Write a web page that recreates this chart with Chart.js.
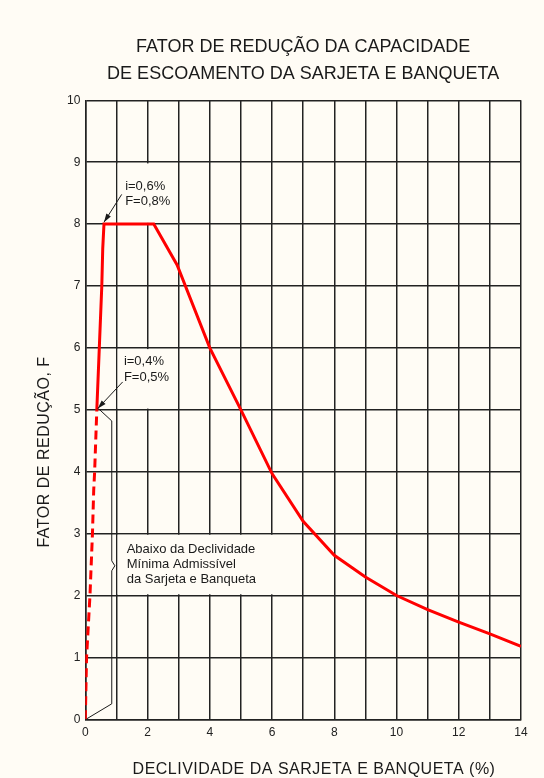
<!DOCTYPE html>
<html>
<head>
<meta charset="utf-8">
<script src="https://cdn.jsdelivr.net/npm/chart.js@4.4.1/dist/chart.umd.min.js"></script>
<style>
  html, body { margin: 0; padding: 0; background: #fffcf5; }
  #wrap { width: 544px; height: 778px; }
</style>
</head>
<body>
<div id="wrap"><canvas id="fator"></canvas></div>
<script>
// curva F x declividade (%)
var declivSolid = [0.37, 0.45, 0.53, 0.56, 0.6, 2.2, 2.95, 4, 5, 6, 7, 8, 9, 10, 11, 12, 13, 14];
var fatorSolid  = [5, 6, 7, 7.6, 8, 8, 7.34, 6, 5, 3.97, 3.2, 2.65, 2.3, 2, 1.77, 1.57, 1.38, 1.18];
// trecho abaixo da declividade minima (tracejado)
var declivDash = [0, 0.04, 0.15, 0.23, 0.27, 0.3, 0.37];
var fatorDash  = [0, 1, 2, 3, 3.7, 4, 5];
// chave "Abaixo da Declividade..."
var chaveX = [0.02, 0.85, 0.85, 0.95, 0.85, 0.85, 0.42];
var chaveY = [0, 0.25, 2.4, 2.48, 2.56, 4.82, 5.02];

var xLabels = [0, 2, 4, 6, 8, 10, 12, 14];
var yLabels = [0, 1, 2, 3, 4, 5, 6, 7, 8, 9, 10];

var titulo = ['FATOR DE REDUÇÃO DA CAPACIDADE', 'DE ESCOAMENTO DA SARJETA E BANQUETA'];
var tituloX = 'DECLIVIDADE DA SARJETA E BANQUETA (%)';
var tituloY = 'FATOR DE REDUÇÃO, F';
var nota1 = ['i=0,6%', 'F=0,8%'];
var nota2 = ['i=0,4%', 'F=0,5%'];
var nota3 = ['Abaixo da Declividade', 'Mínima Admissível', 'da Sarjeta e Banqueta'];

var fundo = '#fffcf5';
var fonte = '"Liberation Sans", Arial, sans-serif';

function pares(xs, ys) {
  return xs.map(function (x, i) { return { x: x, y: ys[i] }; });
}

// caixas sem grade interna: [x0, x1, y0, y1]
var caixas = [[1, 3, 8, 9], [1, 3, 5, 6], [1, 7, 2, 3]];

var decor = {
  id: 'decor',
  beforeDraw: function (chart) {
    var ctx = chart.ctx;
    ctx.save();
    ctx.fillStyle = fundo;
    ctx.fillRect(0, 0, chart.width, chart.height);
    ctx.restore();
  },
  beforeDatasetsDraw: function (chart) {
    var xs = chart.scales.x, ys = chart.scales.y, ctx = chart.ctx;
    ctx.save();
    ctx.fillStyle = fundo;
    caixas.forEach(function (c) {
      var x0 = xs.getPixelForValue(c[0]) + 1.2, x1 = xs.getPixelForValue(c[1]) - 1.2;
      var y0 = ys.getPixelForValue(c[3]) + 1.2, y1 = ys.getPixelForValue(c[2]) - 1.2;
      ctx.fillRect(x0, y0, x1 - x0, y1 - y0);
    });
    ctx.restore();
  },
  afterDatasetsDraw: function (chart) {
    var xs = chart.scales.x, ys = chart.scales.y, ctx = chart.ctx;
    var px = function (v) { return xs.getPixelForValue(v); };
    var py = function (v) { return ys.getPixelForValue(v); };
    ctx.save();
    ctx.fillStyle = '#1a1a1a';
    ctx.font = '13px ' + fonte;
    ctx.textBaseline = 'middle';
    ctx.textAlign = 'left';
    nota1.forEach(function (t, i) { ctx.fillText(t, px(1.28), py(8.61) + i * 15); });
    nota2.forEach(function (t, i) { ctx.fillText(t, px(1.24), py(5.78) + i * 15.5); });
    nota3.forEach(function (t, i) { ctx.fillText(t, px(1.33), py(2.74) + i * 15); });

    function seta(x0, y0, x1, y1) {
      var ax = px(x0), ay = py(y0), bx = px(x1), by = py(y1);
      var ang = Math.atan2(by - ay, bx - ax);
      ctx.strokeStyle = '#1a1a1a';
      ctx.lineWidth = 1;
      ctx.beginPath();
      ctx.moveTo(ax, ay);
      ctx.lineTo(bx, by);
      ctx.stroke();
      ctx.beginPath();
      ctx.moveTo(bx, by);
      ctx.lineTo(bx - 9 * Math.cos(ang - 0.3), by - 9 * Math.sin(ang - 0.3));
      ctx.lineTo(bx - 9 * Math.cos(ang + 0.3), by - 9 * Math.sin(ang + 0.3));
      ctx.closePath();
      ctx.fill();
    }
    seta(1.17, 8.48, 0.6, 8.03);
    seta(1.2, 5.45, 0.4, 5.02);

    // titulos dos eixos
    ctx.font = '16px ' + fonte;
    ctx.textAlign = 'center';
    ctx.letterSpacing = '0.5px';
    ctx.fillText(tituloX, 314, 770);
    ctx.translate(45, 452);
    ctx.rotate(-Math.PI / 2);
    ctx.fillText(tituloY, 0, 0);
    ctx.restore();
  }
};

var ctx = document.getElementById('fator').getContext('2d');
var fatorChart = new Chart(ctx, {
  type: 'line',
  data: {
    datasets: [{
      data: pares(declivSolid, fatorSolid),
      borderColor: '#ff0000',
      borderWidth: 3,
      pointRadius: 0,
      tension: 0
    }, {
      data: pares(declivDash, fatorDash),
      borderColor: '#ff0000',
      borderWidth: 3,
      borderDash: [9, 5],
      pointRadius: 0,
      tension: 0
    }, {
      data: pares(chaveX, chaveY),
      borderColor: '#1a1a1a',
      borderWidth: 1,
      pointRadius: 0,
      tension: 0
    }]
  },
  options: {
    responsive: true,
    maintainAspectRatio: false,
    animation: false,
    layout: { padding: { top: 0, right: 23, bottom: 0, left: 0 } },
    plugins: {
      legend: { display: false },
      tooltip: { enabled: false },
      title: {
        display: true,
        fullSize: false,
        text: titulo,
        color: '#1a1a1a',
        font: { family: fonte, size: 18, weight: 'normal', lineHeight: 1.5 },
        padding: { top: 33.5, bottom: 12.8 }
      }
    },
    scales: {
      x: {
        type: 'linear',
        min: 0, max: 14,
        afterFit: function (s) { s.height = 58.7; },
        ticks: {
          stepSize: 1,
          autoSkip: false,
          maxRotation: 0,
          padding: 6,
          color: '#222',
          font: { family: fonte, size: 12 },
          callback: function (v) { return xLabels.indexOf(v) >= 0 ? String(v) : ''; }
        },
        grid: { color: '#222', lineWidth: 1.5, drawTicks: false },
        border: { color: '#222', width: 1.5 }
      },
      y: {
        type: 'linear',
        min: 0, max: 10,
        afterFit: function (s) { s.width = 85.3; },
        ticks: {
          stepSize: 1,
          padding: 5,
          color: '#222',
          font: { family: fonte, size: 12 },
          callback: function (v) { return yLabels.indexOf(v) >= 0 ? String(v) : ''; }
        },
        grid: { color: '#222', lineWidth: 1.5, drawTicks: false },
        border: { color: '#222', width: 1.5 }
      }
    }
  },
  plugins: [decor]
});
</script>
</body>
</html>
